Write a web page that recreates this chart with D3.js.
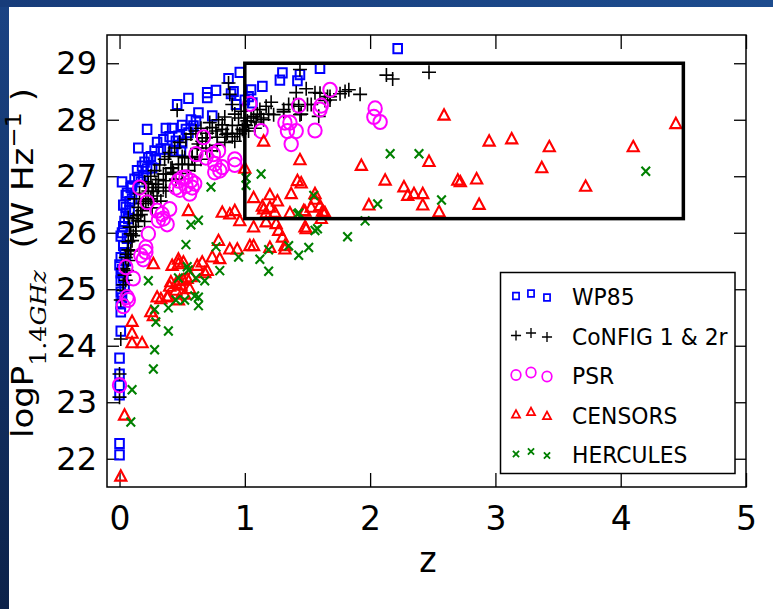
<!DOCTYPE html>
<html><head><meta charset="utf-8">
<script src="https://cdn.jsdelivr.net/npm/d3@7"></script>
<style>body{margin:0;overflow:hidden;background:#fff}svg{display:block}</style>
</head><body>
<script>
// ---------------- DATA ----------------
const xTicks = [0, 1, 2, 3, 4, 5];
const yTicks = [22, 23, 24, 25, 26, 27, 28, 29];
const seriesNames = ["WP85", "CoNFIG 1 & 2r", "PSR", "CENSORS", "HERCULES"];
const boxZ = [1, 4.5];
const boxP = [26.25, 29];

const wp85 = [[2.22,29.26],[1.60,28.91],[1.44,28.8],[1.42,28.69],[1.30,28.83],[1.28,28.7],[1.14,28.59],[1.05,28.53],[1.03,28.41],[0.96,28.84],[0.87,28.73],[0.89,28.46],[0.93,28.27],[0.91,28.5],[0.77,28.52],[0.70,28.48],[0.70,28.39],[0.55,28.38],[0.46,28.27],[0.37,27.85],[0.22,27.83],[0.74,28.07],[0.63,28.12],[0.61,27.98],[0.59,27.89],[0.53,27.83],[0.55,27.77],[0.47,27.71],[0.45,27.62],[0.50,27.59],[0.15,27.5],[0.33,27.48],[0.38,27.48],[0.43,27.45],[0.49,27.45],[0.23,27.33],[0.29,27.3],[0.18,27.18],[0.22,27.13],[0.26,27.15],[0.15,26.98],[0.10,26.83],[0.19,27.0],[0.09,26.8],[0.05,26.66],[0.03,26.49],[0.05,26.35],[0.03,26.11],[0.01,25.94],[0.03,25.77],[0.01,25.56],[0.0,25.43],[0.01,25.29],[0.01,25.15],[0.01,24.95],[0.01,24.74],[0.01,24.6],[0.01,24.26],[0.0,23.78],[0.0,23.5],[0.0,23.3],[0.0,23.13],[0.0,22.27],[0.0,22.07],[0.02,26.9],[0.06,26.7],[0.04,26.2],[0.02,26.0],[0.06,25.9],[0.04,25.65],[0.02,25.35],[0.04,25.05],[0.02,24.85],[0.05,26.45],[0.08,26.55],[0.07,26.25],[1.0,28.35],[1.06,28.3],[0.08,26.4],[0.10,26.6],[0.12,26.95],[0.14,27.1],[0.17,26.9],[0.20,27.25],[0.25,27.35],[0.28,27.45],[0.30,27.6],[0.35,27.65],[0.40,27.7],[0.42,27.85],[0.50,27.9],[0.57,28.0],[0.03,25.2],[0.05,25.5]];

const config = [[2.47,28.84],[2.13,28.79],[2.18,28.72],[1.92,28.45],[1.80,28.5],[1.83,28.53],[1.76,28.46],[1.68,28.41],[1.64,28.34],[1.56,28.48],[1.49,28.55],[1.53,28.27],[1.43,28.24],[1.41,28.48],[1.44,28.89],[1.45,28.1],[1.35,28.27],[1.31,28.14],[1.21,28.31],[1.17,28.24],[1.19,28.1],[1.13,28.03],[1.09,27.96],[1.05,28.03],[1.01,27.9],[0.98,27.83],[0.94,27.76],[0.90,27.9],[0.86,27.76],[0.82,27.83],[0.78,27.69],[0.74,27.86],[0.70,27.76],[0.66,27.62],[0.87,28.65],[0.88,28.45],[0.46,28.17],[0.62,27.49],[0.58,27.35],[0.55,27.21],[0.50,27.35],[0.47,27.21],[0.43,27.07],[0.41,27.14],[0.39,27.35],[0.35,27.04],[0.31,26.94],[0.35,26.8],[0.27,26.73],[0.23,26.87],[0.23,26.59],[0.19,26.52],[0.15,26.45],[0.17,26.32],[0.11,26.25],[0.13,26.11],[0.09,25.98],[0.07,25.84],[0.07,25.7],[0.05,25.56],[0.03,25.36],[0.03,25.08],[0.01,24.81],[0.01,24.12],[0.0,23.5],[0.0,23.09],[1.60,28.47],[1.66,28.41],[1.68,28.35],[1.50,28.27],[1.39,28.27],[1.31,28.18],[1.23,28.09],[1.12,28.18],[1.07,28.06],[1.02,27.98],[0.99,27.8],[1.59,28.06],[1.44,28.09],[0.90,28.27],[0.82,27.91],[0.77,27.8],[0.69,27.68],[0.63,27.57],[0.52,27.33],[0.42,27.15],[0.37,27.04],[0.26,26.8],[0.95,28.03],[1.0,27.91],[0.85,27.74],[0.92,27.62],[0.69,27.5],[0.58,27.33],[0.50,27.21],[0.43,27.04],[0.37,26.92],[0.29,26.86],[0.23,26.74],[0.21,26.56],[0.18,26.39],[0.15,26.21],[0.13,26.03],[0.10,25.86],[0.09,25.68],[0.07,25.51],[0.06,25.33],[0.05,25.16],[0.03,24.98],[0.33,26.56],[0.26,26.44],[0.37,26.74],[0.31,26.8],[0.07,26.27],[0.12,26.6],[0.16,26.7],[0.20,26.9],[0.25,27.0],[0.28,27.1],[0.32,27.2],[0.36,27.3],[0.40,27.42],[0.44,27.5],[0.48,27.6],[0.53,27.65],[0.57,27.75],[0.61,27.8],[0.65,27.85],[0.72,27.95],[0.79,28.0],[0.84,28.05],[0.92,28.1],[0.97,28.15],[0.14,26.3],[0.20,26.2],[0.25,26.6],[0.30,26.65],[0.45,26.95],[0.50,27.05],[0.55,27.1],[0.60,27.2],[0.65,27.3],[0.72,27.45],[0.78,27.55],[0.84,27.6],[0.90,27.7],[0.96,27.75],[1.03,27.8],[1.08,27.85],[1.10,28.1],[1.15,28.0],[0.08,26.1],[0.11,25.95],[0.06,25.62],[0.04,25.25]];

const psr = [[1.68,28.53],[1.61,28.25],[1.60,28.18],[1.43,28.25],[2.04,28.2],[2.03,28.05],[2.08,27.96],[1.32,27.95],[1.36,27.95],[1.34,27.8],[1.41,27.8],[1.37,27.57],[1.56,27.81],[1.13,27.8],[1.04,28.28],[0.67,27.69],[0.61,27.39],[0.69,27.33],[0.75,27.39],[0.79,27.45],[0.76,27.22],[0.82,27.16],[0.80,27.1],[0.76,27.07],[0.92,27.3],[0.92,27.2],[0.50,26.97],[0.57,26.92],[0.60,26.87],[0.48,26.76],[0.56,26.69],[0.45,26.8],[0.53,26.83],[0.58,26.8],[0.47,26.92],[0.53,26.98],[0.16,26.8],[0.22,26.54],[0.30,26.39],[0.35,26.25],[0.38,26.15],[0.31,26.22],[0.40,26.42],[0.34,26.33],[0.23,25.98],[0.21,25.74],[0.17,25.6],[0.19,25.53],[0.21,25.66],[0.05,25.39],[0.11,25.19],[0.07,24.81],[0.03,24.7],[0.06,24.86],[0.0,23.3]];

const censors = [[4.44,27.93],[4.1,27.52],[3.37,27.15],[3.72,26.82],[3.43,27.52],[3.13,27.66],[2.95,27.62],[2.59,28.08],[2.47,27.26],[1.93,27.19],[2.12,26.93],[2.27,26.81],[2.30,26.66],[2.35,26.69],[2.42,26.69],[2.42,26.49],[2.55,26.37],[2.72,26.9],[2.70,26.93],[2.85,26.95],[2.87,26.5],[1.99,26.49],[1.44,27.29],[1.42,26.92],[1.45,26.88],[1.37,26.69],[1.15,27.62],[1.0,27.14],[1.07,26.62],[1.2,26.67],[1.26,26.56],[1.14,26.47],[1.17,26.35],[1.36,26.35],[1.56,26.69],[1.56,26.59],[1.53,26.45],[1.48,26.38],[1.49,26.07],[1.62,26.38],[1.64,26.35],[1.61,26.25],[0.82,26.36],[0.88,26.33],[0.92,26.39],[0.96,26.21],[1.07,26.1],[1.15,26.42],[1.2,26.45],[1.24,26.36],[1.17,26.19],[1.25,26.16],[1.27,26.04],[1.30,25.92],[1.32,25.77],[1.48,26.1],[1.47,26.39],[1.60,26.48],[1.63,26.36],[0.55,26.39],[0.79,25.86],[0.88,25.71],[0.94,25.71],[1.04,25.77],[1.07,25.77],[1.20,25.74],[1.32,25.71],[0.74,25.57],[0.80,25.54],[0.66,25.48],[0.62,25.42],[0.68,25.29],[0.70,25.33],[0.42,25.42],[0.47,25.45],[0.51,25.48],[0.47,25.53],[0.41,25.13],[0.45,25.1],[0.49,25.07],[0.51,25.16],[0.54,25.19],[0.57,25.22],[0.48,25.15],[0.40,25.05],[0.45,24.98],[0.39,24.88],[0.30,24.86],[0.33,24.83],[0.38,24.86],[0.47,24.81],[0.52,24.91],[0.56,25.01],[0.27,25.45],[0.25,24.6],[0.27,24.53],[0.10,24.43],[0.10,24.22],[0.10,24.05],[0.18,24.05],[0.04,22.77],[0.01,21.69]];

const hercules = [[4.2,27.09],[2.57,26.58],[2.39,27.4],[2.16,27.4],[2.06,26.51],[1.96,26.21],[1.82,25.93],[1.56,26.04],[1.55,26.66],[1.43,26.35],[1.51,25.74],[1.43,25.6],[1.35,25.77],[1.19,25.7],[1.12,25.53],[1.19,25.32],[1.13,27.04],[1.01,26.84],[1.01,26.97],[0.73,26.81],[0.63,26.22],[0.57,26.14],[0.53,25.79],[0.77,25.75],[0.95,25.57],[0.80,25.33],[0.68,25.15],[0.61,25.2],[0.54,25.4],[0.55,25.34],[0.47,25.2],[0.60,24.88],[0.63,24.71],[0.52,24.81],[0.45,24.81],[0.39,24.67],[0.23,25.15],[0.28,24.64],[0.29,24.42],[0.39,24.26],[0.28,23.93],[0.27,23.59],[0.10,23.22],[0.09,22.65],[1.58,26.07],[1.42,26.33],[0.63,24.86]];

// ---------------- LAYOUT ----------------
const W = 773, H = 609;
const M = {l: 107, r: 746, t: 35, b: 487};
const FONT = "DejaVu Sans, sans-serif";

const svg = d3.select("body").append("svg").attr("width", W).attr("height", H);
const defs = svg.append("defs");
const grad = defs.append("linearGradient").attr("id", "bg").attr("x1", 0).attr("y1", 0).attr("x2", 0.3).attr("y2", 1);
grad.append("stop").attr("offset", 0).attr("stop-color", "#1a4384");
grad.append("stop").attr("offset", 1).attr("stop-color", "#0b1f44");
const gradT = defs.append("linearGradient").attr("id", "bgt").attr("x1", 0).attr("y1", 0).attr("x2", 1).attr("y2", 0);
gradT.append("stop").attr("offset", 0).attr("stop-color", "#173c7a");
gradT.append("stop").attr("offset", 1).attr("stop-color", "#1d4c8e");
svg.append("rect").attr("width", W).attr("height", H).attr("fill", "url(#bg)");
svg.append("rect").attr("width", W).attr("height", 7).attr("fill", "url(#bgt)");
svg.append("rect").attr("x", 9).attr("y", 7).attr("width", W - 9).attr("height", H - 7).attr("fill", "#fff");

const x = d3.scaleLinear().domain([-0.1, 5]).range([M.l, M.r]);
const y = d3.scaleLinear().domain([21.5, 29.5]).range([M.b, M.t]);

// axes (ticks inward on all four sides)
function styleAxis(g, fs) {
  g.select(".domain").remove();
  g.selectAll(".tick line").attr("stroke", "#000").attr("stroke-width", 1.3);
  g.selectAll(".tick text").attr("font-family", FONT).attr("font-size", fs).attr("fill", "#000");
}
svg.append("g").attr("transform", `translate(0,${M.b})`)
  .call(d3.axisBottom(x).tickValues(xTicks).tickFormat(d3.format("d")).tickSizeInner(-14).tickSizeOuter(0).tickPadding(20))
  .call(g => styleAxis(g, 33));
svg.append("g").attr("transform", `translate(0,${M.t})`)
  .call(d3.axisTop(x).tickValues(xTicks).tickFormat("").tickSizeInner(-14).tickSizeOuter(0))
  .call(g => styleAxis(g, 33));
svg.append("g").attr("transform", `translate(${M.l},0)`)
  .call(d3.axisLeft(y).tickValues(yTicks).tickFormat(d3.format("d")).tickSizeInner(-12).tickSizeOuter(0).tickPadding(10))
  .call(g => styleAxis(g, 32));
svg.append("g").attr("transform", `translate(${M.r},0)`)
  .call(d3.axisRight(y).tickValues(yTicks).tickFormat("").tickSizeInner(-12).tickSizeOuter(0))
  .call(g => styleAxis(g, 32));

// frame
svg.append("rect").attr("x", M.l).attr("y", M.t).attr("width", M.r - M.l).attr("height", M.b - M.t)
  .attr("fill", "none").attr("stroke", "#000").attr("stroke-width", 1.5);

// markers
const shapes = {
  square: {d: "M-4.3,-4.6h8.6v9.2h-8.6z", color: "#0000ff", w: 2},
  plus: {d: "M-7,0H7M0,-7V7", color: "#000", w: 1.6},
  circle: {d: "M6.7,0A6.7,7.1 0 1 1 -6.7,0A6.7,7.1 0 1 1 6.7,0Z", color: "#ff00ff", w: 2},
  tri: {d: "M0,-6L5.6,4.4L-5.6,4.4Z", color: "#ff0000", w: 2.1},
  cross: {d: "M-4.3,-4.5L4.3,4.5M-4.3,4.5L4.3,-4.5", color: "#008000", w: 2.1}
};
const seriesData = [wp85, config, psr, censors, hercules];
const seriesShape = ["square", "plus", "circle", "tri", "cross"];

const plot = svg.append("g");
seriesData.forEach((data, i) => {
  const s = shapes[seriesShape[i]];
  plot.append("g").selectAll("path").data(data).join("path")
    .attr("transform", d => `translate(${x(d[0])},${y(d[1])})`)
    .attr("d", s.d).attr("fill", "none").attr("stroke", s.color).attr("stroke-width", s.w);
});

// selection box
svg.append("rect")
  .attr("x", x(boxZ[0])).attr("y", y(boxP[1]))
  .attr("width", x(boxZ[1]) - x(boxZ[0])).attr("height", y(boxP[0]) - y(boxP[1]))
  .attr("fill", "none").attr("stroke", "#000").attr("stroke-width", 3.5);

// x label
svg.append("text").attr("transform", "translate(428,572) scale(0.92,1)").attr("text-anchor", "middle")
  .attr("font-family", FONT).attr("font-size", 36).text("z");

// y label
const yl = svg.append("text").attr("transform", "translate(33,263) rotate(-90)")
  .attr("text-anchor", "middle").attr("font-family", FONT).attr("font-size", 31)
  .attr("textLength", 350).attr("lengthAdjust", "spacingAndGlyphs");
yl.append("tspan").text("logP");
yl.append("tspan").attr("font-family", "DejaVu Serif, serif").attr("font-size", 23).attr("dy", 13).text("1.4");
yl.append("tspan").attr("font-family", "DejaVu Serif, serif").attr("font-style", "italic").attr("font-size", 23).text("GHz");
yl.append("tspan").attr("dy", -13).text("\u00a0\u00a0(W Hz");
yl.append("tspan").attr("font-size", 22).attr("dy", -12).text("\u22121");
yl.append("tspan").attr("dy", 12).text("\u00a0)");

// legend
const lg = svg.append("g");
lg.append("rect").attr("x", 500.5).attr("y", 272.5).attr("width", 234.5).attr("height", 201)
  .attr("fill", "#fff").attr("stroke", "#000").attr("stroke-width", 1.5);
const lgX = [516, 531, 547], lgDy = [0, -2.5, 1.5];
seriesNames.forEach((name, i) => {
  const by = 305 + i * 39.5;
  const s = shapes[seriesShape[i]];
  lgX.forEach((mx, k) => {
    lg.append("path").attr("transform", `translate(${mx},${by - 9 + lgDy[k]}) scale(0.72)`)
      .attr("d", s.d).attr("fill", "none").attr("stroke", s.color).attr("stroke-width", s.w / 0.72 * 0.85);
  });
  lg.append("text").attr("transform", `translate(572,${by}) scale(0.95,1)`)
    .attr("font-family", FONT).attr("font-size", 23).text(name);
});
</script>
</body></html>
